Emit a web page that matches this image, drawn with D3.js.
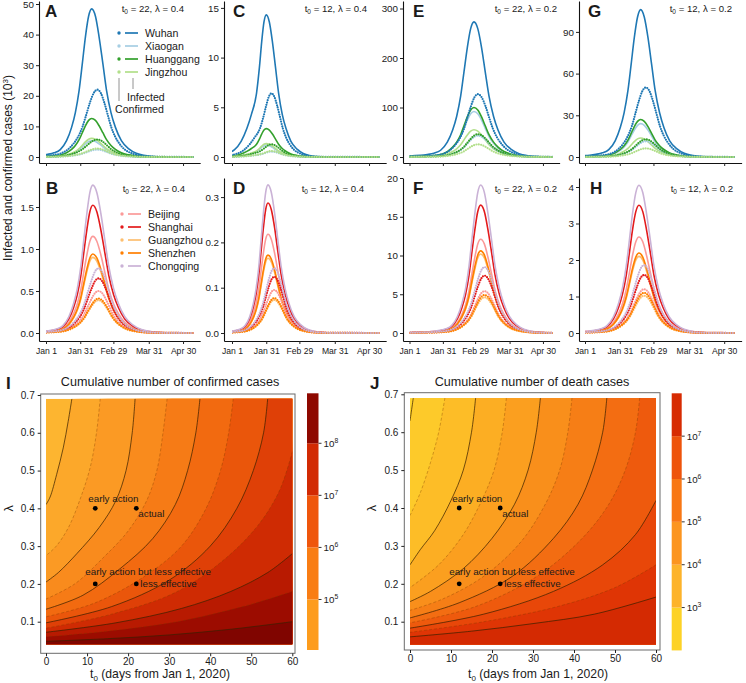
<!DOCTYPE html>
<html>
<head>
<meta charset="utf-8">
<script src="https://cdn.jsdelivr.net/npm/d3@7"></script>
<style>
  body { margin: 0; background: #fff; }
  text { font-family: "Liberation Sans", Arial, Helvetica, sans-serif; fill: #1a1a1a; }
</style>
</head>
<body>
<div id="chart"></div>
<script>
// ---------- data ----------
const tickDays = [0, 30, 59, 90, 120];
const tickLabels = ["Jan 1", "Jan 31", "Feb 29", "Mar 31", "Apr 30"];

const hubeiCities = ["Wuhan", "Xiaogan", "Huanggang", "Jingzhou"];
const hubeiColors = ["#1f78b4", "#a6cee3", "#33a02c", "#b2df8a"];
const otherCities = ["Beijing", "Shanghai", "Guangzhou", "Shenzhen", "Chongqing"];
const otherColors = ["#fb9a99", "#e31a1c", "#fdbf6f", "#ff7f00", "#cab2d6"];

// fraction of the peak reached at each sampled day (same sequence for every curve)
const shape = [0.001,0.012,0.018,0.028,0.05,0.11,0.2,0.3,0.45,0.63,0.81,0.95,1,
               0.95,0.81,0.63,0.45,0.3,0.2,0.11,0.055,0.025,0.011,0.002,0];

// sampled days (from Jan 1) for infected / confirmed curves, one pair per panel
const daysInfA  = [-37,-4,1.5,7,12.5,18,22.4,25.7,29,31.8,34.5,37.3,40,43.3,46.5,49.8,53,56.9,60.8,66,72.5,79,85.5,98.5,132];
const daysConfA = [-46,-7,-0.5,6,12.5,19,24.2,28.1,32,35.3,38.5,41.8,45,48,51,54,57,60.6,64.2,69,75,81,87,99,132];
const daysInfB  = [-32.5,-1,4.3,9.5,14.8,20,24.2,27.4,30.5,33.1,35.8,38.4,41,44.5,48,51.5,55,59.2,63.4,69,76,83,90,104,132];
const daysConfB = [-41.5,-4,2.3,8.5,14.8,21,26,29.8,33.5,36.6,39.8,42.9,46,49.1,52.3,55.4,58.5,62.3,66,71,77.3,83.5,89.8,102.3,132];
const daysInfC  = [-40,-16,-10,-4,2,8,13,17,21.5,24,26,28,30,32.7,35.4,38.1,40.8,44,47.3,51.6,57,62.4,67.8,78.6,132];
const daysConfC = [-38,-14,-8,-2,4,10.5,15.5,19.5,24.5,27.5,30,32.3,34.5,37,39.5,42,44.5,47.5,50.5,54.5,59.5,64.5,69.5,79.5,132];
const daysInfD  = [-24.5,-0.5,3.5,7.5,11.5,15.5,18.7,21.1,23.5,25.5,27.5,29.5,31.5,34.4,37.3,40.1,43,46.5,49.9,54.5,60.3,66,71.8,83.3,132];
const daysConfD = [-33,-3,2,7,12,17,21,24,27,29.5,32,34.5,37,39.6,42.3,44.9,47.5,50.7,53.8,58,63.3,68.5,73.8,84.3,132];
const daysInfE  = [-26,10,16,22,28,34,38.8,42.4,46,49,52,55,58,61.4,64.8,68.1,71.5,75.6,79.6,85,91.8,98.5,105.3,118.8,132];
const daysConfE = [-26,11.5,17.8,24,30.3,36.5,41.5,45.3,49,52.1,55.3,58.4,61.5,64.9,68.3,71.6,75,79.1,83.1,88.5,95.3,102,108.8,122.3,132];
const daysInfF  = [-9.5,22,27.3,32.5,37.8,43,47.2,50.4,53.5,56.1,58.8,61.4,64,67.3,70.5,73.8,77,80.9,84.8,90,96.5,103,109.5,122.5,132];
const daysConfF = [-16.5,19.5,25.5,31.5,37.5,43.5,48.3,51.9,55.5,58.5,61.5,64.5,67.5,70.6,73.8,76.9,80,83.8,87.5,92.5,98.8,105,111.3,123.8,132];
const daysInfG  = [-29,4,9.5,15,20.5,26,30.4,33.7,37,39.8,42.5,45.3,48,51.1,54.3,57.4,60.5,64.3,68,73,79.3,85.5,91.8,104.3,132];
const daysConfG = [-31.5,4.5,10.5,16.5,22.5,28.5,33.3,36.9,40.5,43.5,46.5,49.5,52.5,55.5,58.5,61.5,64.5,68.1,71.7,76.5,82.5,88.5,94.5,106.5,132];
const daysInfH  = [-30.5,2.5,8,13.5,19,24.5,28.9,32.2,35.5,38.3,41,43.8,46.5,49.8,53,56.3,59.5,63.4,67.3,72.5,79,85.5,92,105,132];
const daysConfH = [-33,3,9,15,21,27,31.8,35.4,39,42,45,48,51,54,57,60,63,66.6,70.2,75,81,87,93,105,132];

// peak values (10^3) per city, infected / confirmed
const peakInfA  = [48.4, 5.3, 12.6, 6.1];    const peakConfA = [22.0, 2.4, 5.7, 2.75];
const peakInfC  = [14.3, 1.2, 2.85, 1.35];   const peakConfC = [6.4, 0.54, 1.28, 0.6];
const peakInfE  = [273, 92, 100, 55];        const peakConfE = [127, 43, 46, 25.5];
const peakInfG  = [106, 24, 27, 13.7];       const peakConfG = [50, 11.3, 12.7, 6.2];
const peakInfB  = [1.15, 1.52, 0.90, 0.94, 1.76];       const peakConfB = [0.50, 0.65, 0.39, 0.41, 0.77];
const peakInfD  = [0.218, 0.287, 0.165, 0.172, 0.327];  const peakConfD = [0.095, 0.124, 0.073, 0.077, 0.143];
const peakInfF  = [12.1, 16.5, 10.2, 10.6, 19.1];       const peakConfF = [5.4, 7.4, 4.6, 4.9, 8.5];
const peakInfH  = [2.63, 3.5, 2.1, 2.19, 4.05];         const peakConfH = [1.2, 1.59, 1.02, 1.1, 1.86];

const yTicksA = [0, 10, 20, 30, 40, 50];
const yTicksC = [0, 5, 10, 15];
const yTicksE = [0, 100, 200, 300];
const yTicksG = [0, 30, 60, 90];
const yTicksB = [0, 0.5, 1, 1.5];
const yTicksD = [0, 0.1, 0.2, 0.3];
const yTicksF = [0, 5, 10, 15, 20];
const yTicksH = [0, 1, 2, 3, 4];

// contour plots: lines as [t0, lambda] points, from top/right edge to left edge
const t0Ticks = [0, 10, 20, 30, 40, 50, 60];
const lamTicks = [0.1, 0.2, 0.3, 0.4, 0.5, 0.6, 0.7];
const scenarioT0 = [12, 22, 12, 22];
const scenarioLam = [0.4, 0.4, 0.2, 0.2];
const scenarioNames = ["early action", "actual", "early action but less effective", "less effective"];

const levelsI = [5, 5.5, 6, 6.5, 7, 7.5, 8, 8.5, 9, 9.5, 10];
const contourI = [
  [[6.3,0.69],[5.4,0.63],[4.2,0.56],[2.6,0.49],[1,0.43],[0,0.41]],
  [[13.2,0.69],[12.3,0.6],[10.8,0.51],[8.5,0.43],[5.5,0.35],[2.5,0.3],[0,0.275]],
  [[21.7,0.69],[21,0.6],[19.5,0.5],[17,0.42],[13,0.35],[7.5,0.28],[3,0.23],[0,0.205]],
  [[29.5,0.69],[28.5,0.6],[27,0.5],[24.5,0.42],[20,0.34],[14,0.27],[7,0.2],[0,0.16]],
  [[37.5,0.69],[36.5,0.6],[34.5,0.5],[31.5,0.41],[26,0.32],[18,0.24],[9,0.17],[0,0.133]],
  [[45.6,0.69],[44.5,0.6],[42.5,0.5],[39,0.4],[33,0.3],[24,0.22],[12,0.15],[0,0.113]],
  [[54,0.69],[53,0.6],[50.5,0.5],[46.5,0.4],[40,0.3],[30,0.21],[16,0.14],[0,0.097]],
  [[60,0.55],[57,0.45],[52,0.36],[44,0.27],[32,0.18],[16,0.12],[0,0.083]],
  [[60,0.28],[54,0.23],[45,0.18],[33,0.135],[17,0.097],[0,0.072]],
  [[60,0.18],[48,0.14],[32,0.1],[15,0.075],[0,0.06]],
  [[60,0.1],[45,0.08],[30,0.065],[15,0.055],[0,0.048]]
];
const levelsJ = [3, 3.5, 4, 4.5, 5, 5.5, 6, 6.5, 7, 7.5, 8];
const contourJ = [
  [[0.8,0.69],[0.4,0.66],[0,0.63]],
  [[8.5,0.69],[7,0.6],[5,0.52],[2.5,0.44],[0,0.38]],
  [[16,0.69],[15,0.6],[13,0.5],[10,0.42],[6,0.34],[2.5,0.29],[0,0.25]],
  [[23.5,0.69],[22.5,0.6],[20.5,0.5],[17.5,0.42],[13,0.33],[7,0.25],[0,0.19]],
  [[31.8,0.69],[30.8,0.6],[28.8,0.5],[25.5,0.41],[20,0.32],[13,0.24],[5,0.18],[0,0.153]],
  [[39.5,0.69],[38.5,0.6],[36.5,0.5],[33,0.41],[27,0.31],[18,0.22],[8,0.16],[0,0.13]],
  [[48,0.69],[47,0.6],[44.5,0.5],[41,0.41],[35,0.32],[25,0.22],[12,0.15],[0,0.11]],
  [[56,0.69],[55,0.6],[52.5,0.5],[48.5,0.41],[42,0.32],[31,0.22],[16,0.14],[0,0.097]],
  [[60,0.42],[55,0.33],[47,0.25],[35,0.18],[18,0.12],[0,0.083]],
  [[60,0.25],[50,0.19],[36,0.14],[18,0.1],[0,0.072]],
  [[60,0.165],[45,0.12],[30,0.095],[15,0.075],[0,0.06]]
];
const cbExpI = [4, 5, 6, 7, 8, 9];
const cbExpJ = [2, 3, 4, 5, 6, 7, 8];

// ---------- styles ----------
const bandsI = ["#fdb530","#fca82a","#fb9a24","#f98b1d","#f67b16","#f26a10","#ea560b","#df4007","#cf2b03","#b81a01","#9c0c00","#800500"];
const bandsJ = ["#fed52d","#fdca2a","#fdbd27","#fcae23","#fb9f1f","#f98f1b","#f67e16","#f36d12","#ee5a0d","#e84709","#df3505","#d42a02"];
const cbColI = ["#fd9c1d","#f97d14","#ef560c","#d22a03","#8e0800"];
const cbColJ = ["#fdd226","#fdb32a","#fc951f","#f87714","#ee530b","#d72b02"];

const svg = d3.select("#chart").append("svg")
  .attr("width", 746).attr("height", 683);

const cols = [
  {axisX: 39,  jan1: 46,    ppd: 1.142},
  {axisX: 224, jan1: 232,   ppd: 1.142},
  {axisX: 403, jan1: 409.5, ppd: 1.112},
  {axisX: 579, jan1: 585,   ppd: 1.16}
];
const rows = [
  {zeroY: 157, axisY: 163, topY: 1,   tagY: 16.5, noteY: 12},
  {zeroY: 333, axisY: 341, topY: 178, tagY: 194,  noteY: 192}
];

const panels = [
  {tag:"A", col:0, row:0, ppu:3.06,  ticks:yTicksA, fmt:"d",   t0:22, lam:"0.4", tagX:45,  noteX:184, dInf:daysInfA, dConf:daysConfA, pInf:peakInfA, pConf:peakConfA, colors:hubeiColors},
  {tag:"C", col:1, row:0, ppu:9.94,  ticks:yTicksC, fmt:"d",   t0:12, lam:"0.4", tagX:233, noteX:367, dInf:daysInfC, dConf:daysConfC, pInf:peakInfC, pConf:peakConfC, colors:hubeiColors},
  {tag:"E", col:2, row:0, ppu:0.495, ticks:yTicksE, fmt:"d",   t0:22, lam:"0.2", tagX:413, noteX:557, dInf:daysInfE, dConf:daysConfE, pInf:peakInfE, pConf:peakConfE, colors:hubeiColors},
  {tag:"G", col:3, row:0, ppu:1.39,  ticks:yTicksG, fmt:"d",   t0:12, lam:"0.2", tagX:588, noteX:732, dInf:daysInfG, dConf:daysConfG, pInf:peakInfG, pConf:peakConfG, colors:hubeiColors},
  {tag:"B", col:0, row:1, ppu:84,    ticks:yTicksB, fmt:".1f", t0:22, lam:"0.4", tagX:46,  noteX:185, dInf:daysInfB, dConf:daysConfB, pInf:peakInfB, pConf:peakConfB, colors:otherColors},
  {tag:"D", col:1, row:1, ppu:453,   ticks:yTicksD, fmt:".1f", t0:12, lam:"0.4", tagX:233, noteX:364, dInf:daysInfD, dConf:daysConfD, pInf:peakInfD, pConf:peakConfD, colors:otherColors},
  {tag:"F", col:2, row:1, ppu:7.75,  ticks:yTicksF, fmt:"d",   t0:22, lam:"0.2", tagX:413, noteX:557, dInf:daysInfF, dConf:daysConfF, pInf:peakInfF, pConf:peakConfF, colors:otherColors},
  {tag:"H", col:3, row:1, ppu:36.5,  ticks:yTicksH, fmt:"d",   t0:12, lam:"0.2", tagX:590, noteX:733, dInf:daysInfH, dConf:daysConfH, pInf:peakInfH, pConf:peakConfH, colors:otherColors}
];

function styleAxis(sel, size) {
  sel.select(".domain").attr("stroke", "#111").attr("stroke-width", 1.1);
  sel.selectAll(".tick line").attr("stroke", "#222");
  sel.selectAll(".tick text").attr("font-size", size).attr("fill", "#1a1a1a")
    .attr("font-family", '"Liberation Sans", Arial, sans-serif');
}

panels.forEach(p => {
  const c = cols[p.col], r = rows[p.row];
  const x = d3.scaleLinear().domain([0, 120]).range([c.jan1, c.jan1 + 120 * c.ppd]);
  const y = d3.scaleLinear().domain([0, 1]).range([r.zeroY, r.zeroY - p.ppu]);
  const xEnd = x(135);
  const xAx = x.copy().domain([x.invert(c.axisX), x.invert(xEnd)]).range([c.axisX, xEnd]);
  const yAx = y.copy().domain([y.invert(r.axisY), y.invert(r.topY)]).range([r.axisY, r.topY]);
  const g = svg.append("g");

  // curves
  const clipId = "clip" + p.tag;
  g.append("clipPath").attr("id", clipId).append("rect")
    .attr("x", x(0)).attr("y", r.topY - 2).attr("width", x(129) - x(0)).attr("height", r.axisY - r.topY);
  const gc = g.append("g").attr("clip-path", `url(#${clipId})`);
  const line = d3.line().x(d => x(d[0])).y(d => y(d[1])).curve(d3.curveMonotoneX);

  p.colors.forEach((col, i) => {
    const pts = p.dInf.map((d, j) => [d, shape[j] * p.pInf[i]]);
    gc.append("path").attr("d", line(pts)).attr("fill", "none")
      .attr("stroke", col).attr("stroke-width", 1.6);
  });
  p.colors.forEach((col, i) => {
    const pts = p.dConf.map((d, j) => [d, shape[j] * p.pConf[i]]);
    gc.append("path").attr("d", line(pts)).attr("fill", "none")
      .attr("stroke", col).attr("stroke-width", 2.2)
      .attr("stroke-linecap", "round").attr("stroke-dasharray", "0,2.4");
  });

  // axes
  const fmt = d3.format(p.fmt);
  g.append("g").attr("transform", `translate(${c.axisX},0)`)
    .call(d3.axisLeft(yAx).tickValues(p.ticks).tickSize(3).tickSizeOuter(0).tickPadding(2).tickFormat(fmt))
    .call(s => styleAxis(s, 9.8));
  const xa = d3.axisBottom(xAx).tickValues(tickDays).tickSize(3).tickSizeOuter(0).tickPadding(4);
  if (p.row === 0) xa.tickFormat("");
  else xa.tickFormat((d, i) => tickLabels[i]);
  g.append("g").attr("transform", `translate(0,${r.axisY})`)
    .call(xa).call(s => styleAxis(s, 8.6));

  // panel letter and parameters
  g.append("text").attr("x", p.tagX).attr("y", r.tagY)
    .attr("font-size", 17).attr("font-weight", "bold").attr("fill", "#000").text(p.tag);
  const t = g.append("text").attr("x", p.noteX).attr("y", r.noteY)
    .attr("text-anchor", "end").attr("font-size", 9.6);
  t.append("tspan").text("t");
  t.append("tspan").attr("font-size", 6.5).attr("dy", 2).text("0");
  t.append("tspan").attr("dy", -2).text(` = ${p.t0}, \u03bb = ${p.lam}`);
});

// legends
function legend(names, colors, y0, step, xDot) {
  const g = svg.append("g");
  names.forEach((n, i) => {
    const yy = y0 + i * step;
    g.append("circle").attr("cx", xDot).attr("cy", yy).attr("r", 1.7).attr("fill", colors[i]);
    g.append("line").attr("x1", xDot + 6).attr("x2", xDot + 19).attr("y1", yy).attr("y2", yy)
      .attr("stroke", colors[i]).attr("stroke-width", 1.7);
    g.append("text").attr("x", xDot + 26).attr("y", yy + 3.8).attr("font-size", 10.6).text(n);
  });
  return g;
}
const lgA = legend(hubeiCities, hubeiColors, 33, 13, 119);
lgA.append("line").attr("x1", 119).attr("x2", 119).attr("y1", 78).attr("y2", 101).attr("stroke", "#777").attr("stroke-width", 0.8);
lgA.append("line").attr("x1", 133).attr("x2", 133).attr("y1", 78).attr("y2", 89).attr("stroke", "#777").attr("stroke-width", 0.8);
lgA.append("text").attr("x", 127).attr("y", 100.5).attr("font-size", 10.6).text("Infected");
lgA.append("text").attr("x", 115).attr("y", 113).attr("font-size", 10.6).text("Confirmed");
legend(otherCities, otherColors, 214, 13, 122);

// shared y label
const yl = svg.append("text").attr("transform", "translate(12,168) rotate(-90)")
  .attr("text-anchor", "middle").attr("font-size", 12);
yl.append("tspan").text("Infected and confirmed cases (10");
yl.append("tspan").attr("font-size", 8).attr("dy", -4).text("3");
yl.append("tspan").attr("dy", 4).text(")");

// ---------- contour panels ----------
const lamMin = 0.04, lamMax = 0.69;

function heat(o) {
  const xs = d3.scaleLinear().domain([0, 60]).range([o.x0, o.x60]);
  const ys = d3.scaleLinear().domain([0.1, 0.7]).range([o.y01, o.y07]);
  const g = svg.append("g");
  const clipId = "clip" + o.tag;
  g.append("clipPath").attr("id", clipId).append("rect")
    .attr("x", xs(0)).attr("y", ys(lamMax))
    .attr("width", xs(60) - xs(0)).attr("height", ys(lamMin) - ys(lamMax));
  const area = g.append("g").attr("clip-path", `url(#${clipId})`);
  area.append("rect").attr("x", xs(0)).attr("y", ys(lamMax))
    .attr("width", xs(60) - xs(0)).attr("height", ys(lamMin) - ys(lamMax))
    .attr("fill", o.bands[0]);
  const cl = d3.line().x(d => xs(d[0])).y(d => ys(d[1])).curve(d3.curveCatmullRom);
  const corners = [[-1, lamMin - 0.05], [61, lamMin - 0.05], [61, lamMax + 0.05]];
  o.lines.forEach((ln, k) => {
    const d = cl(ln) + corners.map(q => `L${xs(q[0])},${ys(q[1])}`).join("") + "Z";
    area.append("path").attr("d", d).attr("fill", o.bands[k + 1]);
  });
  o.lines.forEach((ln, k) => {
    const solid = Number.isInteger(o.levels[k]);
    area.append("path").attr("d", cl(ln)).attr("fill", "none")
      .attr("stroke", solid ? "#3a2200" : "#7a3a00")
      .attr("stroke-opacity", solid ? 0.8 : 0.45)
      .attr("stroke-width", solid ? 0.9 : 0.8)
      .attr("stroke-dasharray", solid ? null : "3,2");
  });

  // scenario points
  scenarioT0.forEach((t, i) => {
    g.append("circle").attr("cx", xs(t)).attr("cy", ys(scenarioLam[i])).attr("r", 2.4).attr("fill", "#000");
  });
  const off = [[-7, -6], [2, 8.5], [-10, -9], [4, 3.5]];
  scenarioNames.forEach((n, i) => {
    g.append("text").attr("x", xs(scenarioT0[i]) + off[i][0]).attr("y", ys(scenarioLam[i]) + off[i][1])
      .attr("font-size", 9.8).attr("fill", "#222").text(n);
  });

  // frame and axes
  g.append("rect").attr("x", o.fx0).attr("y", o.fy0)
    .attr("width", o.fx1 - o.fx0).attr("height", o.fy1 - o.fy0)
    .attr("fill", "none").attr("stroke", "#6b6b6b").attr("stroke-width", 1);
  g.append("g").attr("transform", `translate(0,${o.fy1})`)
    .call(d3.axisBottom(xs).tickValues(t0Ticks).tickSize(3).tickSizeOuter(0).tickPadding(1.5))
    .call(s => { styleAxis(s, 10); s.select(".domain").remove(); });
  g.append("g").attr("transform", `translate(${o.fx0},0)`)
    .call(d3.axisLeft(ys).tickValues(lamTicks).tickSize(3).tickSizeOuter(0).tickPadding(3).tickFormat(d3.format(".1f")))
    .call(s => { styleAxis(s, 10); s.select(".domain").remove(); });

  // titles
  g.append("text").attr("x", o.tagX).attr("y", 389).attr("font-size", 17).attr("font-weight", "bold").attr("fill", "#000").text(o.tag);
  g.append("text").attr("x", o.titleX).attr("y", 386).attr("text-anchor", "middle")
    .attr("font-size", 12.6).text(o.title);
  const xl = g.append("text").attr("x", o.xlabX).attr("y", 678).attr("text-anchor", "middle").attr("font-size", 12.2);
  xl.append("tspan").text("t");
  xl.append("tspan").attr("font-size", 8).attr("dy", 3).text("0");
  xl.append("tspan").attr("dy", -3).text(" (days from Jan 1, 2020)");
  g.append("text").attr("transform", `translate(${o.lamX},${ys(0.4)}) rotate(-90)`)
    .attr("text-anchor", "middle").attr("font-size", 12.5).text("\u03bb");

  // colour bar
  const cb = d3.scaleLinear().domain([o.cbLo, o.cbHi]).range([o.cbBot, o.cbTop]);
  const gb = g.append("g");
  o.cbExp.slice(0, -1).forEach((e, i) => {
    const lo = Math.max(e, o.cbLo);
    const hi = Math.min(o.cbExp[i + 1], o.cbHi);
    gb.append("rect").attr("x", o.cbX).attr("width", o.cbW)
      .attr("y", cb(hi)).attr("height", cb(lo) - cb(hi)).attr("fill", o.cbCol[i]);
  });
  o.cbExp.slice(1, -1).forEach(e => {
    gb.append("line").attr("x1", o.cbX + o.cbW).attr("x2", o.cbX + o.cbW + 3)
      .attr("y1", cb(e)).attr("y2", cb(e)).attr("stroke", "#333");
    const tt = gb.append("text").attr("x", o.cbX + o.cbW + 5).attr("y", cb(e) + 3.5).attr("font-size", 9.8);
    tt.append("tspan").text("10");
    tt.append("tspan").attr("font-size", 6.8).attr("dy", -4).text(e);
  });
}

heat({tag:"I", title:"Cumulative number of confirmed cases", lines:contourI, levels:levelsI, bands:bandsI,
  x0:46, x60:292.3, y01:621.7, y07:395, fx0:40.7, fy0:394, fx1:295, fy1:653.3,
  tagX:6, titleX:170, xlabX:160, lamX:13,
  cbExp:cbExpI, cbCol:cbColI, cbLo:4.03, cbHi:8.96, cbX:307, cbW:11.5, cbTop:393.3, cbBot:650});
heat({tag:"J", title:"Cumulative number of death cases", lines:contourJ, levels:levelsJ, bands:bandsJ,
  x0:410, x60:656, y01:621.7, y07:394.3, fx0:404.3, fy0:392.7, fx1:660, fy1:650,
  tagX:370, titleX:532, xlabX:538, lamX:376,
  cbExp:cbExpJ, cbCol:cbColJ, cbLo:1.97, cbHi:8.0, cbX:671.7, cbW:10, cbTop:393.3, cbBot:651.7});
</script>
</body>
</html>
